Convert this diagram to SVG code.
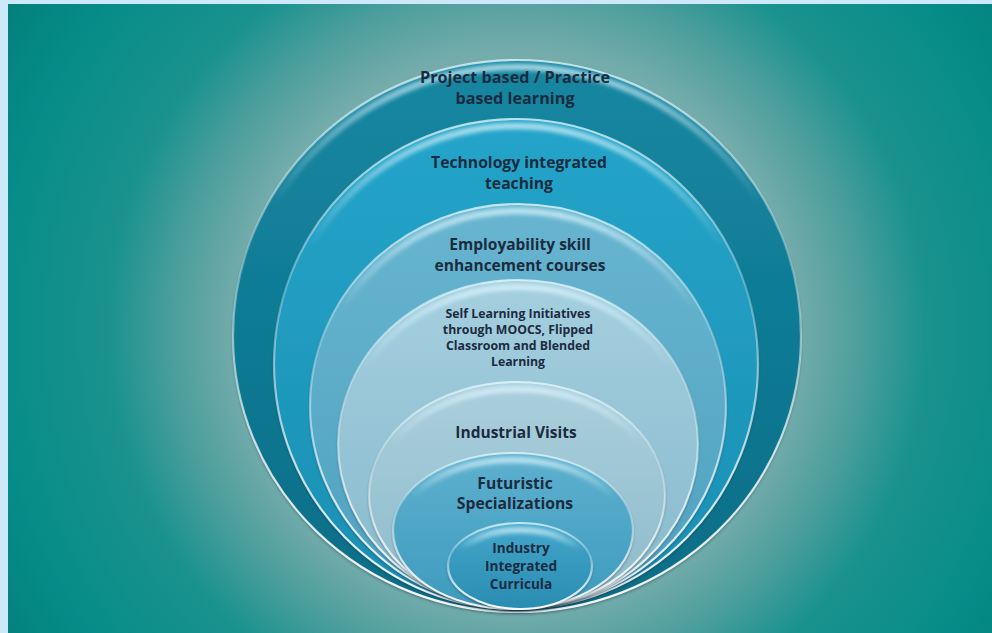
<svg xmlns="http://www.w3.org/2000/svg" width="992" height="633" viewBox="0 0 992 633">
  <defs>
    <radialGradient id="bg" gradientUnits="userSpaceOnUse" cx="517" cy="330" r="620">
      <stop offset="0" stop-color="#a8c6c6"/>
      <stop offset="0.45" stop-color="#74acab"/>
      <stop offset="0.55" stop-color="#4e9f9d"/>
      <stop offset="0.66" stop-color="#1a928e"/>
      <stop offset="0.85" stop-color="#068c88"/>
      <stop offset="1" stop-color="#027d79"/>
    </radialGradient>
    <linearGradient id="g1" x1="0" y1="0" x2="0" y2="1">
      <stop offset="0" stop-color="#1587a1"/>
      <stop offset="1" stop-color="#0b6d86"/>
    </linearGradient>
    <linearGradient id="g2" x1="0" y1="0" x2="0" y2="1">
      <stop offset="0" stop-color="#25a4c9"/>
      <stop offset="1" stop-color="#1a8fb3"/>
    </linearGradient>
    <linearGradient id="g3" x1="0" y1="0" x2="0" y2="1">
      <stop offset="0" stop-color="#68b5d0"/>
      <stop offset="1" stop-color="#4ea1bf"/>
    </linearGradient>
    <linearGradient id="g4" x1="0" y1="0" x2="0" y2="1">
      <stop offset="0" stop-color="#a5cfdf"/>
      <stop offset="1" stop-color="#86b9cc"/>
    </linearGradient>
    <linearGradient id="g5" x1="0" y1="0" x2="0" y2="1">
      <stop offset="0" stop-color="#abcfdc"/>
      <stop offset="1" stop-color="#8cbacb"/>
    </linearGradient>
    <linearGradient id="g6" x1="0" y1="0" x2="0" y2="1">
      <stop offset="0" stop-color="#5eb0ce"/>
      <stop offset="1" stop-color="#3d9bbd"/>
    </linearGradient>
    <linearGradient id="g7" x1="0" y1="0" x2="0" y2="1">
      <stop offset="0" stop-color="#42a6ca"/>
      <stop offset="1" stop-color="#2a8cb2"/>
    </linearGradient>
    <!-- bright bevel rim: strong at top and bottom, softer at the sides -->
    <linearGradient id="rim" x1="0" y1="0" x2="0" y2="1">
      <stop offset="0" stop-color="#e8fbff" stop-opacity="0.75"/>
      <stop offset="0.35" stop-color="#e8fbff" stop-opacity="0.3"/>
      <stop offset="0.7" stop-color="#ffffff" stop-opacity="0.75"/>
      <stop offset="1" stop-color="#ffffff" stop-opacity="0.95"/>
    </linearGradient>
    <linearGradient id="glow" x1="0" y1="0" x2="0" y2="1">
      <stop offset="0" stop-color="#dff7ff" stop-opacity="0.75"/>
      <stop offset="0.25" stop-color="#dff7ff" stop-opacity="0"/>
      <stop offset="1" stop-color="#dff7ff" stop-opacity="0"/>
    </linearGradient>
    <filter id="shadow" x="-10%" y="-10%" width="120%" height="125%">
      <feDropShadow dx="0" dy="2" stdDeviation="1.6" flood-color="#0a2f3c" flood-opacity="0.55"/>
    </filter>
    <filter id="soft" x="-10%" y="-10%" width="120%" height="120%">
      <feGaussianBlur stdDeviation="2"/>
    </filter>
  </defs>
  <style>
    .ring { filter: url(#shadow); }
    .rim { fill: none; stroke: url(#rim); stroke-width: 2.2; }
    .hl { fill: none; stroke: url(#glow); stroke-width: 6; filter: url(#soft); }
    .lbl { font-family: "Open Sans", Lato, "Liberation Sans", sans-serif; font-weight: bold; fill: #1b2b40; text-anchor: middle; }
  </style>

  <!-- background with frame strips -->
  <rect width="992" height="633" fill="#cde9f9"/>
  <rect x="8" y="4" width="984" height="629" fill="url(#bg)"/>

  <g id="project-based">
    <ellipse class="ring" cx="517" cy="336" rx="284" ry="276" fill="url(#g1)"/>
    <ellipse class="hl" cx="517" cy="339" rx="280" ry="272"/>
    <ellipse class="rim" cx="517" cy="336" rx="284" ry="276"/>
    <text class="lbl" x="515" y="83" font-size="16.2">Project based / Practice</text>
    <text class="lbl" x="515" y="104" font-size="16.2">based learning</text>
  </g>

  <g id="technology-integrated">
    <ellipse class="ring" cx="516" cy="364" rx="242" ry="245" fill="url(#g2)"/>
    <ellipse class="hl" cx="516" cy="367" rx="238" ry="241"/>
    <ellipse class="rim" cx="516" cy="364" rx="242" ry="245"/>
    <text class="lbl" x="519" y="168" font-size="15.7">Technology integrated</text>
    <text class="lbl" x="519" y="189" font-size="15.7">teaching</text>
  </g>

  <g id="employability">
    <ellipse class="ring" cx="518" cy="406" rx="208" ry="202" fill="url(#g3)"/>
    <ellipse class="hl" cx="518" cy="409" rx="204" ry="198"/>
    <ellipse class="rim" cx="518" cy="406" rx="208" ry="202"/>
    <text class="lbl" x="520" y="250" font-size="15.5">Employability skill</text>
    <text class="lbl" x="520" y="271" font-size="15.5">enhancement courses</text>
  </g>

  <g id="self-learning">
    <ellipse class="ring" cx="518" cy="444" rx="180" ry="164" fill="url(#g4)"/>
    <ellipse class="hl" cx="518" cy="447" rx="176" ry="160"/>
    <ellipse class="rim" cx="518" cy="444" rx="180" ry="164"/>
    <text class="lbl" x="518" y="318" font-size="12.3">Self Learning Initiatives</text>
    <text class="lbl" x="518" y="334" font-size="12.3">through MOOCS, Flipped</text>
    <text class="lbl" x="518" y="350" font-size="12.3">Classroom and  Blended</text>
    <text class="lbl" x="518" y="366" font-size="12.3">Learning</text>
  </g>

  <g id="industrial-visits">
    <ellipse class="ring" cx="517" cy="495" rx="148" ry="113" fill="url(#g5)"/>
    <ellipse class="hl" cx="517" cy="498" rx="144" ry="109"/>
    <ellipse class="rim" cx="517" cy="495" rx="148" ry="113"/>
    <text class="lbl" x="516" y="438" font-size="15.5">Industrial Visits</text>
  </g>

  <g id="futuristic">
    <ellipse class="ring" cx="513" cy="531" rx="120" ry="78" fill="url(#g6)"/>
    <ellipse class="hl" cx="513" cy="534" rx="116" ry="74"/>
    <ellipse class="rim" cx="513" cy="531" rx="120" ry="78"/>
    <text class="lbl" x="515" y="489" font-size="15.7">Futuristic</text>
    <text class="lbl" x="515" y="509" font-size="15.7">Specializations</text>
  </g>

  <g id="industry-integrated">
    <ellipse class="ring" cx="520" cy="566" rx="72" ry="43" fill="url(#g7)"/>
    <ellipse class="hl" cx="520" cy="569" rx="68" ry="39"/>
    <ellipse class="rim" cx="520" cy="566" rx="72" ry="43"/>
    <text class="lbl" x="521" y="553" font-size="13.6">Industry</text>
    <text class="lbl" x="521" y="571" font-size="13.6">Integrated</text>
    <text class="lbl" x="521" y="589" font-size="13.6">Curricula</text>
  </g>

  <g id="connectors"/>
</svg>
